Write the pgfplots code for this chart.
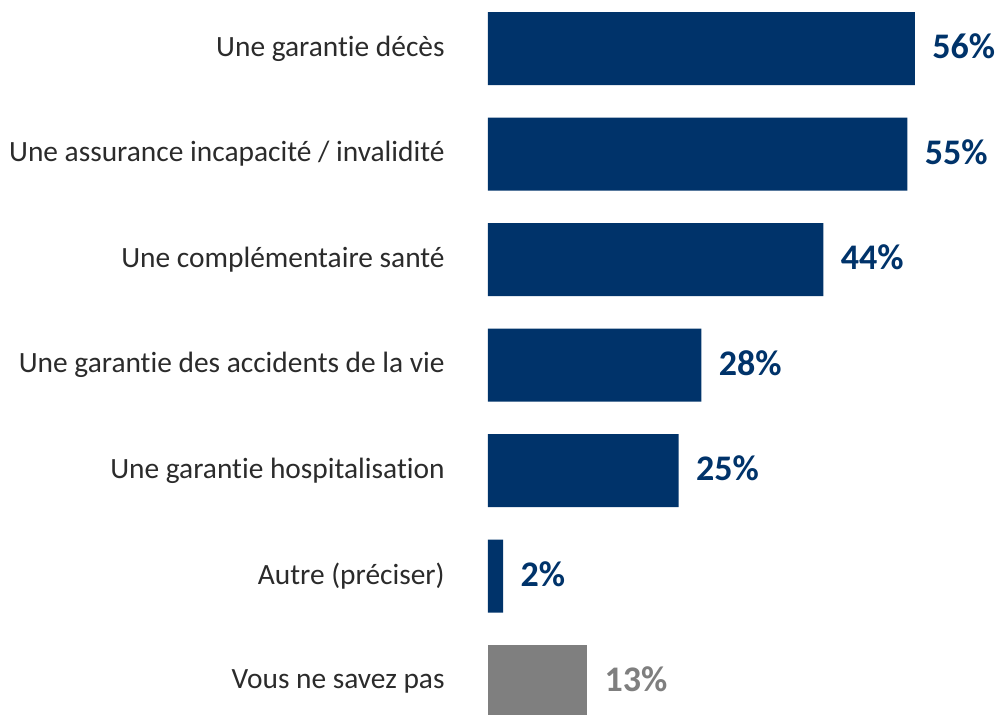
\documentclass[border=0pt]{standalone}
\usepackage{pgfplots}
\pgfplotsset{compat=1.18}
\usepackage{fontspec}
\setmainfont{Carlito}[Ligatures={NoCommon}]
\definecolor{barblue}{HTML}{00336A}
\definecolor{bargray}{HTML}{7F7F7F}
\definecolor{txt}{HTML}{2B2B2B}
\begin{document}
\begin{tikzpicture}
\begin{axis}[
  scale only axis, width=213.5pt, height=369.25pt,
  xmin=0, xmax=56, ymin=-0.5, ymax=6.5, y dir=reverse,
  xbar, bar width=36.5pt,
  axis line style={draw=none}, major tick length=0pt,
  xtick=\empty,
  ytick={0,1,2,3,4,5,6},
  yticklabels={Une garantie décès, Une assurance incapacité / invalidité, Une complémentaire santé, Une garantie des accidents de la vie, Une garantie hospitalisation, Autre (préciser), Vous ne savez pas},
  yticklabel style={anchor=east, inner sep=0pt, xshift=-21.5pt, font=\fontsize{14.7}{16}\selectfont, text=txt},
  point meta=x,
  /pgf/number format/assume math mode=true,
  nodes near coords={\pgfmathprintnumber{\pgfplotspointmeta}\%},
  nodes near coords style={anchor=west, inner sep=0pt, xshift=8.5pt, yshift=1pt, font=\bfseries\fontsize{18}{20}\selectfont},
  clip=false,
]
\addplot[fill=barblue, draw=none, bar shift=0pt, nodes near coords style={text=barblue}] coordinates {(56,0) (55,1) (44,2) (28,3) (25,4) (2,5)};
\addplot[fill=bargray, draw=none, bar shift=0pt, nodes near coords style={text=bargray}] coordinates {(13,6)};
\coordinate (ax0) at (axis cs:0,6.5);
\end{axis}
\pgfresetboundingbox
\path[use as bounding box] ([shift={(-244pt,10.125pt)}]ax0) rectangle ([shift={(256.5pt,367.125pt)}]ax0);
\end{tikzpicture}
\end{document}
